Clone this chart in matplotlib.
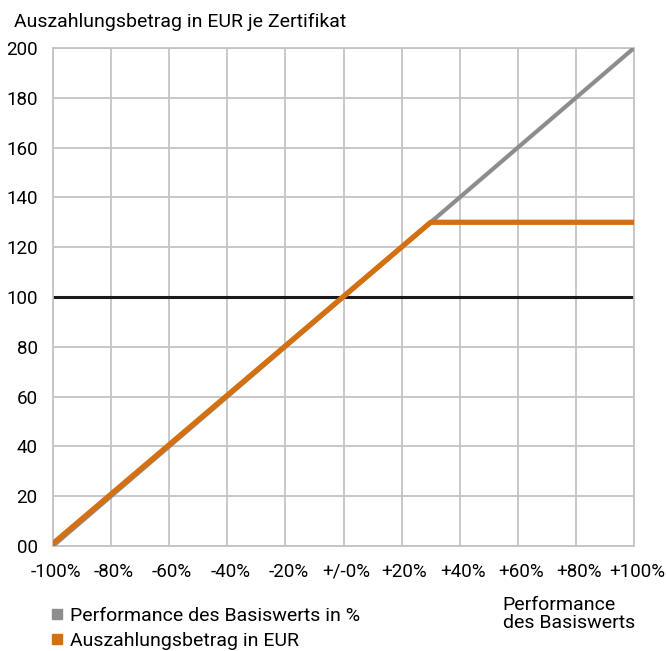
import matplotlib
matplotlib.use("Agg")
import matplotlib.pyplot as plt
import matplotlib.transforms as mtransforms
from matplotlib.lines import Line2D

plt.rcParams['font.family'] = ['Roboto', 'DejaVu Sans']

# data
perf_x = [-100, 100]
perf_y = [0, 200]
pay_x = [-100, 30, 100]
pay_y = [1, 130, 130]
level = 100

xticks = [-100, -80, -60, -40, -20, 0, 20, 40, 60, 80, 100]
xtick_labels = ['-100%', '-80%', '-60%', '-40%', '-20%', '+/-0%',
                '+20%', '+40%', '+60%', '+80%', '+100%']
yticks = [0, 20, 40, 60, 80, 100, 120, 140, 160, 180, 200]
ytick_labels = ['00', '20', '40', '60', '80', '100', '120', '140', '160', '180', '200']

gray = '#8d8d8d'
orange = '#d4700f'
gridc = '#c4c4c4'

fig = plt.figure(figsize=(6.66, 6.51), dpi=100)
ax = fig.add_axes([0.0796, 0.1613, 0.8724, 0.765])

ax.plot(perf_x, perf_y, color=gray, lw=3.0, solid_capstyle='butt', zorder=3,
        label='Performance des Basiswerts in %')
ax.axhline(level, color='#1a1a1a', lw=2.2, zorder=2)
ax.plot(pay_x, pay_y, color=orange, lw=3.8, solid_capstyle='round', zorder=4,
        label='Auszahlungsbetrag in EUR')

ax.set_xlim(-100, 100)
ax.set_ylim(0, 200)
ax.set_xticks(xticks)
ax.set_xticklabels(xtick_labels, fontsize=13.5)
ax.set_yticks(yticks)
ax.set_yticklabels(ytick_labels, fontsize=13.5)
ax.tick_params(length=0)
ax.tick_params(axis='y', pad=11)
ax.tick_params(axis='x', pad=12)
ax.grid(True, color=gridc, lw=1.3, zorder=0)
for s in ax.spines.values():
    s.set_color(gridc)
    s.set_linewidth(1.3)

# x labels sit a little to the right of their grid lines
shift = mtransforms.ScaledTranslation(3 / 100, 0, fig.dpi_scale_trans)
for lab in ax.get_xticklabels():
    lab.set_transform(lab.get_transform() + shift)

fig.text(0.021, 0.966, 'Auszahlungsbetrag in EUR je Zertifikat', fontsize=14,
         ha='left', va='center')
fig.text(0.755, 0.057, 'Performance\ndes Basiswerts', fontsize=14,
         ha='left', va='center', linespacing=1.05)

handles = [Line2D([], [], marker='s', color=c, linestyle='None', markersize=7.5)
           for c in (gray, orange)]
fig.legend(handles, ['Performance des Basiswerts in %', 'Auszahlungsbetrag in EUR'],
           loc='center left', bbox_to_anchor=(0.075, 0.035), frameon=False,
           fontsize=14, handletextpad=0.35, handlelength=0.7, labelspacing=0.35,
           borderaxespad=0, borderpad=0)

fig.savefig('out.png', dpi=100)
